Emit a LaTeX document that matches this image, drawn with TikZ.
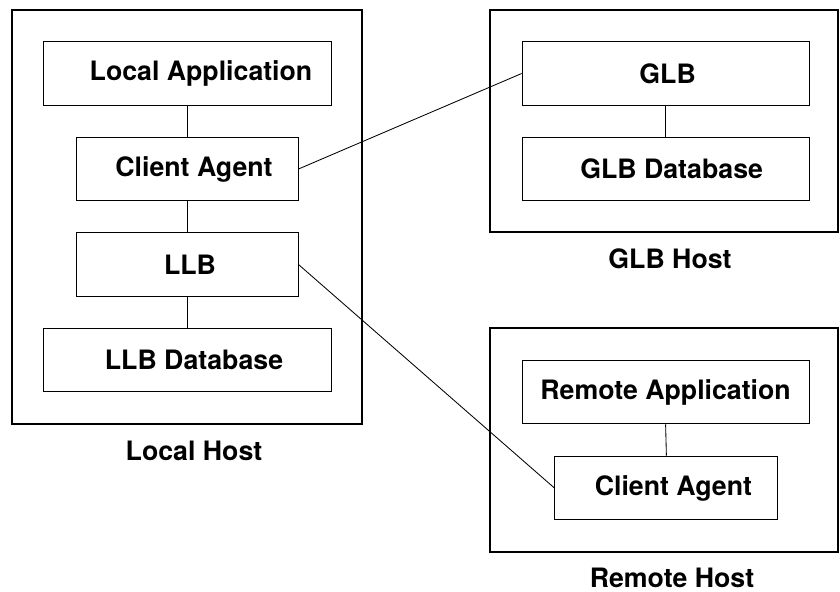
\documentclass[tikz,border=0pt]{standalone}
\usepackage{fontspec}
\setmainfont{TeX Gyre Heros}
\begin{document}
\begin{tikzpicture}[
	host/.style={draw, line width=1.4pt, inner sep=0pt},
	part/.style={draw, line width=0.7pt, inner sep=0pt, minimum height=1.59cm, font=\fontsize{19}{22}\selectfont\bfseries},
	caption/.style={inner sep=0pt, font=\fontsize{19}{22}\selectfont\bfseries},
	link/.style={line width=0.6pt}]
	\useasboundingbox (0, 0) rectangle (21, -14.8);
	% hosts
	\node[host, minimum width=8.75cm, minimum height=10.35cm] (h0) at (4.675, -5.425) {};
	\node[host, minimum width=8.7cm, minimum height=5.55cm] (h1) at (16.6, -3.025) {};
	\node[host, minimum width=8.7cm, minimum height=5.6cm] (h2) at (16.6, -11.0) {};
	\node[caption] (c0) at (4.85, -11.27) {Local Host};
	\node[caption] (c1) at (16.75, -6.47) {GLB Host};
	\node[caption] (c2) at (16.8, -14.45) {Remote Host};
	% local host
	\node[part, minimum width=7.2cm] (0) at (4.675, -1.8375) {\hspace{0.7cm}Local Application};
	\node[part, minimum width=5.55cm] (1) at (4.675, -4.225) {\hspace{0.35cm}Client Agent};
	\node[part, minimum width=5.55cm] (2) at (4.675, -6.6125) {\hspace{0.15cm}LLB};
	\node[part, minimum width=7.2cm] (3) at (4.675, -9.0) {\hspace{0.35cm}LLB Database};
	% GLB host
	\node[part, minimum width=7.175cm] (4) at (16.64, -1.8375) {\hspace{0.1cm}GLB};
	\node[part, minimum width=7.175cm] (5) at (16.64, -4.225) {\hspace{0.3cm}GLB Database};
	% remote host
	\node[part, minimum width=7.175cm] (6) at (16.64, -9.8) {Remote Application};
	\node[part, minimum width=5.575cm] (7) at (16.66, -12.2) {\hspace{0.35cm}Client Agent};
	\draw[link] (0.south) to (1.north);
	\draw[link] (1.south) to (2.north);
	\draw[link] (2.south) to (3.north);
	\draw[link] (4.south) to (5.north);
	\draw[link] (6.south) to (7.north);
	\draw[link] (1.east) to (4.west);
	\draw[link] (2.east) to (7.west);
\end{tikzpicture}
\end{document}
